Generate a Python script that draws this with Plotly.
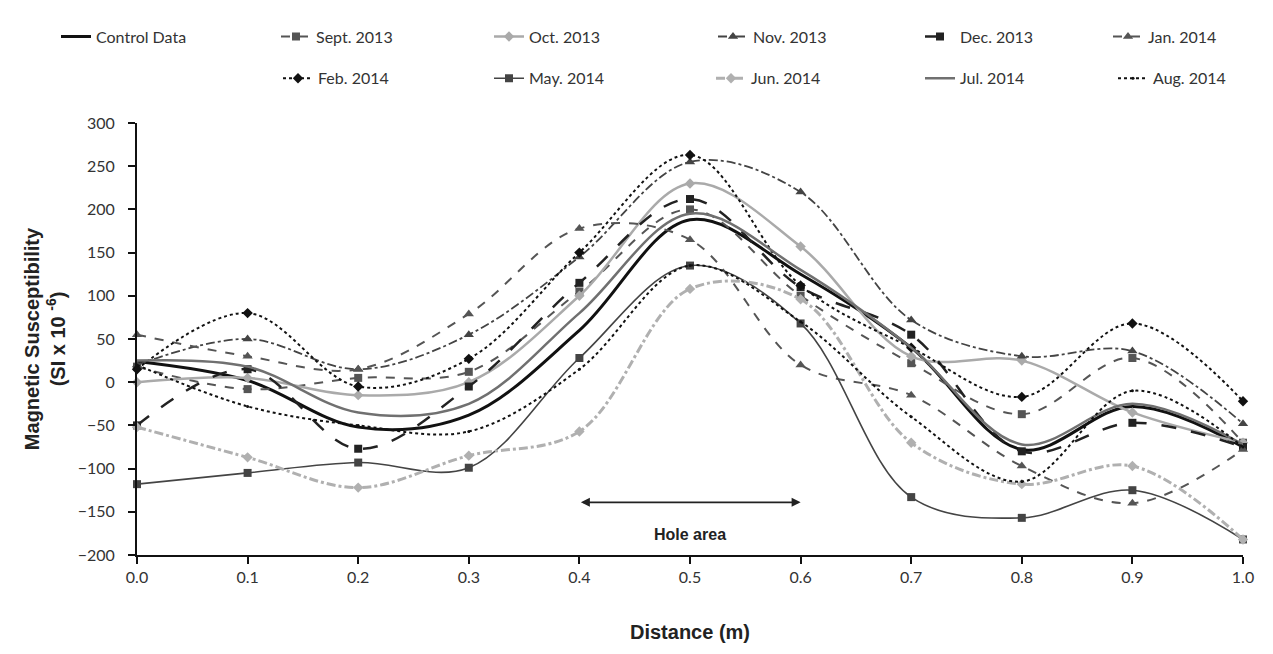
import plotly.graph_objects as go

distance = [0.0, 0.1, 0.2, 0.3, 0.4, 0.5, 0.6, 0.7, 0.8, 0.9, 1.0]

control_data = [24, 2, -52, -38, 60, 188, 125, 40, -78, -28, -75]
sept_2013 = [18, -8, 5, 12, 105, 200, 100, 22, -37, 28, -70]
oct_2013 = [0, 5, -15, 0, 100, 230, 157, 30, 25, -35, -70]
nov_2013 = [20, 50, 15, 55, 145, 255, 220, 72, 30, 36, -48]
dec_2013 = [-50, 15, -77, -5, 115, 212, 110, 55, -80, -47, -75]
jan_2014 = [55, 30, 15, 79, 178, 165, 20, -15, -97, -140, -78]
feb_2014 = [15, 80, -5, 27, 150, 263, 112, 40, -17, 68, -22]
may_2014 = [-118, -105, -93, -99, 28, 135, 68, -133, -157, -125, -182]
jun_2014 = [-52, -87, -122, -85, -57, 108, 96, -70, -118, -97, -182]
jul_2014 = [25, 18, -35, -25, 80, 195, 130, 40, -72, -25, -72]
aug_2014 = [20, -28, -50, -57, 15, 135, 70, -40, -115, -10, -75]

names = ["Control Data", "Sept. 2013", "Oct. 2013", "Nov. 2013", "Dec. 2013", "Jan. 2014",
         "Feb. 2014", "May. 2014", "Jun. 2014", "Jul. 2014", "Aug. 2014"]
series = [control_data, sept_2013, oct_2013, nov_2013, dec_2013, jan_2014,
          feb_2014, may_2014, jun_2014, jul_2014, aug_2014]

styles = [
    dict(color="#111111", width=3, dash="solid", symbol=None, msize=0),
    dict(color="#555555", width=2, dash="dash", symbol="square", msize=8),
    dict(color="#aaaaaa", width=2.5, dash="solid", symbol="diamond", msize=8),
    dict(color="#444444", width=1.8, dash="dashdot", symbol="triangle-up", msize=9),
    dict(color="#222222", width=2.5, dash="longdash", symbol="square", msize=8),
    dict(color="#555555", width=2, dash="dash", symbol="triangle-up", msize=9),
    dict(color="#111111", width=2, dash="dot", symbol="diamond", msize=8),
    dict(color="#444444", width=1.6, dash="solid", symbol="square", msize=8),
    dict(color="#b0b0b0", width=3, dash="dashdot", symbol="diamond", msize=8),
    dict(color="#707070", width=2.5, dash="solid", symbol=None, msize=0),
    dict(color="#111111", width=2, dash="dot", symbol="circle", msize=3),
]

# legend text start positions (px, screen) and rows
leg_text_x = [98, 318, 531, 755, 962, 1150, 320, 531, 753, 962, 1155]
leg_row_y = [33, 33, 33, 33, 33, 33, 75, 75, 75, 75, 75]

OFF = 8  # page body margin
L, R, T, B = 129, 38, 112, 107
W, H = 1273, 654
pw, ph = W - L - R, H - T - B

fig = go.Figure()
for i, (nm, ys, st) in enumerate(zip(names, series, styles)):
    mode = "lines+markers" if st["symbol"] else "lines"
    legname = "legend" if i == 0 else f"legend{i+1}"
    fig.add_trace(go.Scatter(
        x=distance, y=ys, name=nm, mode=mode,
        line=dict(color=st["color"], width=st["width"], dash=st["dash"], shape="spline", smoothing=1.0),
        marker=dict(symbol=st["symbol"] or "circle", size=st["msize"], color=st["color"]),
        cliponaxis=False, legend=legname,
    ))

legends = {}
for i in range(11):
    key = "legend" if i == 0 else f"legend{i+1}"
    legends[key] = dict(
        x=(leg_text_x[i] - OFF - 42 - L) / pw, y=(H - B - (leg_row_y[i] - OFF)) / ph,
        xanchor="left", yanchor="middle", orientation="h",
        bgcolor="rgba(0,0,0,0)", borderwidth=0,
        font=dict(family="Lato, Open Sans, sans-serif", size=16, color="#333333"),
    )

fig.update_layout(
    width=W, height=H,
    margin=dict(l=L, r=R, t=T, b=B),
    paper_bgcolor="white", plot_bgcolor="white",
    showlegend=True,
    **legends,
    xaxis=dict(range=[0, 1.0], dtick=0.1, tick0=0, tickformat=".1f",
               showline=True, linecolor="#111111", linewidth=2,
               ticks="outside", ticklen=7, tickwidth=2, tickcolor="#111111",
               showgrid=False, zeroline=False,
               tickfont=dict(family="Lato, Open Sans, sans-serif", size=16, color="#333333"),
               title=dict(text="<b>Distance (m)</b>", standoff=40,
                          font=dict(family="Liberation Sans, Arial, sans-serif", size=20, color="#222222"))),
    yaxis=dict(range=[-200, 300], dtick=50, tick0=0,
               showline=True, linecolor="#111111", linewidth=2,
               ticks="outside", ticklen=7, tickwidth=2, tickcolor="#111111",
               ticklabelstandoff=10,
               showgrid=False, zeroline=False,
               tickfont=dict(family="Lato, Open Sans, sans-serif", size=16, color="#333333"),
               title=dict(text="<b>Magnetic Susceptibility<br>(SI x 10 <sup>-6</sup>)</b>", standoff=7,
                          font=dict(family="Liberation Sans, Arial, sans-serif", size=20, color="#222222"))),
    annotations=[
        dict(x=0.6, y=-139, ax=0.4, ay=-139, xref="x", yref="y", axref="x", ayref="y",
             text="", showarrow=True, arrowhead=2, startarrowhead=2, arrowside="end+start",
             arrowsize=1, arrowwidth=1.8, arrowcolor="#222222"),
        dict(x=0.5, y=-176, xref="x", yref="y", text="<b>Hole area</b>", showarrow=False,
             font=dict(family="Liberation Sans, Arial, sans-serif", size=16, color="#222222")),
    ],
)

fig.write_html("out.html")
